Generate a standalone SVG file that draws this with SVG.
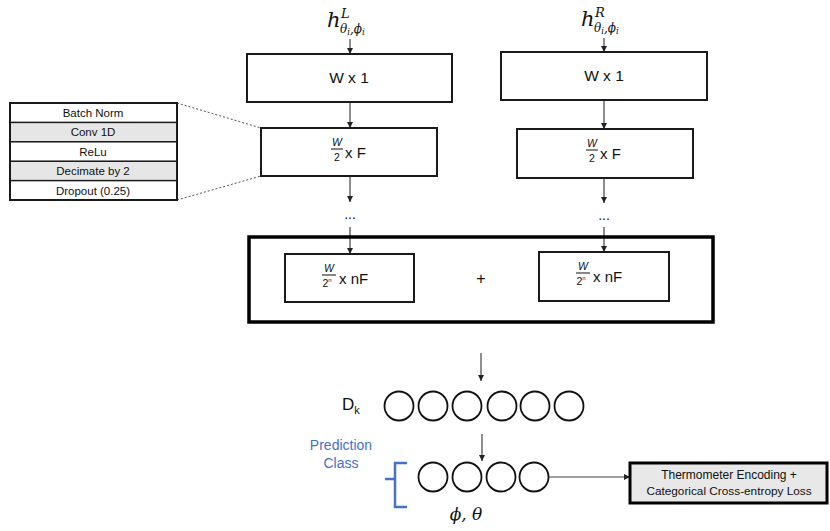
<svg xmlns="http://www.w3.org/2000/svg" width="830" height="531" viewBox="0 0 830 531">
<defs>
<marker id="arr" viewBox="0 0 10 10" refX="10" refY="5" markerWidth="6" markerHeight="6" markerUnits="userSpaceOnUse" orient="auto"><path d="M0,0 L10,5 L0,10 z" fill="#222"/></marker>
<style>
.box{fill:#fff;stroke:#1a1a1a;stroke-width:2}
.big{fill:none;stroke:#000;stroke-width:3.5}
.t{font-family:"Liberation Sans",Arial,sans-serif;fill:#111}
.m{font-family:"DejaVu Serif","Liberation Serif",serif;font-style:italic;fill:#111}
.c{stroke:#444;stroke-width:1.2;fill:none}
.row{stroke:#1a1a1a;stroke-width:1.5}
.circ{fill:#fff;stroke:#111;stroke-width:1.8}
.blue{fill:#4472c4}
</style>
</defs>
<rect width="830" height="531" fill="#fff"/>

<g id="connectors">
<line class="c" x1="350" y1="39" x2="350" y2="54" marker-end="url(#arr)"/>
<line class="c" x1="350" y1="102" x2="350" y2="128" marker-end="url(#arr)"/>
<line class="c" x1="350" y1="176" x2="350" y2="202" marker-end="url(#arr)"/>
<line class="c" x1="350" y1="227" x2="350" y2="254" marker-end="url(#arr)"/>
<line class="c" x1="604" y1="38" x2="604" y2="52" marker-end="url(#arr)"/>
<line class="c" x1="604" y1="100" x2="604" y2="129" marker-end="url(#arr)"/>
<line class="c" x1="604" y1="178" x2="604" y2="203" marker-end="url(#arr)"/>
<line class="c" x1="604" y1="227" x2="604" y2="252" marker-end="url(#arr)"/>
<line class="c" x1="481" y1="353" x2="481" y2="381" marker-end="url(#arr)"/>
<line class="c" x1="482" y1="434" x2="482" y2="461" marker-end="url(#arr)"/>
<line class="c" x1="549" y1="477" x2="630" y2="477" marker-end="url(#arr)"/>
<line x1="177" y1="103" x2="261" y2="128" stroke="#555" stroke-width="1" stroke-dasharray="2,2"/>
<line x1="177" y1="200" x2="261" y2="176" stroke="#555" stroke-width="1" stroke-dasharray="2,2"/>
</g>

<g id="input-left">
<text class="m" x="327" y="27" font-size="21">h</text>
<text class="m" x="341" y="18" font-size="13">L</text>
<text class="m" x="340" y="33" font-size="12">θ<tspan font-size="8.5" dy="2">i</tspan><tspan dy="-2">,ϕ</tspan><tspan font-size="8.5" dy="2">i</tspan></text>
</g>
<g id="input-right">
<text class="m" x="581" y="26" font-size="21">h</text>
<text class="m" x="595" y="17" font-size="13">R</text>
<text class="m" x="594" y="32" font-size="12">θ<tspan font-size="8.5" dy="2">i</tspan><tspan dy="-2">,ϕ</tspan><tspan font-size="8.5" dy="2">i</tspan></text>
</g>

<g id="wx1-left">
<rect class="box" x="247" y="54" width="205" height="48"/>
<text class="t" x="349" y="83" font-size="15.5" text-anchor="middle">W x 1</text>
</g>
<g id="wx1-right">
<rect class="box" x="501" y="52" width="206" height="48"/>
<text class="t" x="604" y="81" font-size="15.5" text-anchor="middle">W x 1</text>
</g>

<g id="w2f-left">
<rect class="box" x="261" y="128" width="176" height="48"/>
<text class="t" x="337" y="146" font-size="10.5" font-style="italic" text-anchor="middle">W</text>
<line x1="331" y1="149" x2="343" y2="149" stroke="#111" stroke-width="1"/>
<text class="t" x="337" y="161" font-size="10.5" text-anchor="middle">2</text>
<text class="t" x="345" y="158" font-size="15">x F</text>
</g>
<g id="w2f-right">
<rect class="box" x="517" y="129" width="176" height="49"/>
<text class="t" x="592" y="147" font-size="10.5" font-style="italic" text-anchor="middle">W</text>
<line x1="586" y1="150" x2="598" y2="150" stroke="#111" stroke-width="1"/>
<text class="t" x="592" y="162" font-size="10.5" text-anchor="middle">2</text>
<text class="t" x="600" y="159" font-size="15">x F</text>
</g>

<g id="dots">
<text class="t" x="350" y="219" font-size="14" text-anchor="middle">...</text>
<text class="t" x="604" y="220" font-size="14" text-anchor="middle">...</text>
</g>

<g id="layer-table">
<rect x="10" y="103" width="167" height="97" fill="#fff" stroke="#1a1a1a" stroke-width="2"/>
<rect class="row" x="10" y="122.4" width="167" height="19.4" fill="#e6e6e6"/>
<rect class="row" x="10" y="161.2" width="167" height="19.4" fill="#e6e6e6"/>
<rect class="row" x="10" y="141.8" width="167" height="19.4" fill="#fff"/>
<rect x="10" y="103" width="167" height="97" fill="none" stroke="#1a1a1a" stroke-width="2"/>
<g class="t" font-size="11.5" text-anchor="middle">
<text x="93" y="117">Batch Norm</text>
<text x="93" y="136">Conv 1D</text>
<text x="93" y="156">ReLu</text>
<text x="93" y="175">Decimate by 2</text>
<text x="93" y="195">Dropout (0.25)</text>
</g>
</g>

<g id="merge">
<rect class="big" x="249" y="237" width="464" height="85"/>
<text class="t" x="481" y="284" font-size="16" text-anchor="middle">+</text>
</g>
<g id="nf-left">
<rect class="box" x="285" y="254" width="129" height="48"/>
<text class="t" x="329" y="272" font-size="10.5" font-style="italic" text-anchor="middle">W</text>
<line x1="322" y1="275" x2="336" y2="275" stroke="#111" stroke-width="1"/>
<text class="t" x="327" y="287" font-size="10.5" text-anchor="middle">2<tspan font-size="6" dy="-5">n</tspan></text>
<text class="t" x="339" y="284" font-size="15">x nF</text>
</g>
<g id="nf-right">
<rect class="box" x="539" y="252" width="130" height="49"/>
<text class="t" x="583" y="270" font-size="10.5" font-style="italic" text-anchor="middle">W</text>
<line x1="576" y1="273" x2="590" y2="273" stroke="#111" stroke-width="1"/>
<text class="t" x="581" y="285" font-size="10.5" text-anchor="middle">2<tspan font-size="6" dy="-5">n</tspan></text>
<text class="t" x="593" y="282" font-size="15">x nF</text>
</g>

<g id="dk-layer">
<text class="t" x="342" y="410" font-size="17">D<tspan font-size="11" dy="4">k</tspan></text>
<circle class="circ" cx="399" cy="406" r="14.5"/>
<circle class="circ" cx="433" cy="406" r="14.5"/>
<circle class="circ" cx="467" cy="406" r="14.5"/>
<circle class="circ" cx="502" cy="406" r="14.5"/>
<circle class="circ" cx="535" cy="406" r="14.5"/>
<circle class="circ" cx="569" cy="406" r="14.5"/>
</g>

<g id="prediction-layer">
<text class="t blue" x="341" y="450" font-size="14" text-anchor="middle" style="fill:#4472c4">Prediction</text>
<text class="t blue" x="341" y="468" font-size="14" text-anchor="middle" style="fill:#4472c4">Class</text>
<path d="M407,463 L395,463 L395,507 L407,507 M395,479 L385,479" fill="none" stroke="#4472c4" stroke-width="2.5"/>
<circle class="circ" cx="433" cy="477" r="14.5"/>
<circle class="circ" cx="467" cy="477" r="14.5"/>
<circle class="circ" cx="501" cy="477" r="14.5"/>
<circle class="circ" cx="534" cy="477" r="14.5"/>
<text class="m" x="466" y="520" font-size="17" text-anchor="middle">ϕ, θ</text>
</g>

<g id="loss">
<rect x="630" y="463" width="197" height="40" fill="#e8e8e8" stroke="#000" stroke-width="3"/>
<text class="t" x="729" y="479" font-size="12" text-anchor="middle">Thermometer Encoding +</text>
<text class="t" x="729" y="495" font-size="11.8" text-anchor="middle">Categorical Cross-entropy Loss</text>
</g>
</svg>
